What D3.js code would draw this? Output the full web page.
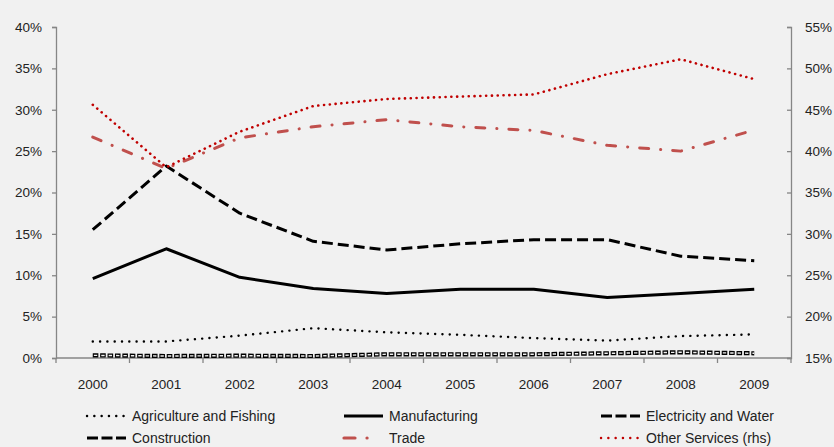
<!DOCTYPE html>
<html>
<head>
<meta charset="utf-8">
<script src="https://cdn.jsdelivr.net/npm/d3@7"></script>
<style>
  html, body { margin: 0; padding: 0; background: #f1f1f1; }
  svg { display: block; font-family: "Liberation Sans", Arial, sans-serif; }
</style>
</head>
<body>
<svg id="chart" width="834" height="447"></svg>
<script>
// Sector shares, 2000-2009 (percent)
const years = ["2000","2001","2002","2003","2004","2005","2006","2007","2008","2009"];
const agriculture   = [2.0, 2.0, 2.7, 3.6, 3.1, 2.8, 2.4, 2.1, 2.65, 2.85];
const manufacturing = [9.6, 13.2, 9.75, 8.4, 7.8, 8.3, 8.3, 7.3, 7.8, 8.3];
const electricity   = [15.5, 23.2, 17.5, 14.1, 13.05, 13.8, 14.3, 14.3, 12.3, 11.75];
const construction  = [0.32, 0.24, 0.28, 0.24, 0.45, 0.45, 0.45, 0.57, 0.69, 0.57];
const trade         = [26.7, 22.9, 26.6, 27.95, 28.8, 27.95, 27.5, 25.7, 25.0, 27.55];
const otherServices = [45.6, 38.05, 42.35, 45.45, 46.3, 46.6, 46.85, 49.3, 51.1, 48.7]; // right-hand scale
const leftTicks  = [0, 5, 10, 15, 20, 25, 30, 35, 40];
const rightTicks = [15, 20, 25, 30, 35, 40, 45, 50, 55];

const svg = d3.select("#chart");
const margin = {left: 56, right: 43, top: 27, bottom: 89};
const W = 834, H = 447;
const x0 = margin.left, x1 = W - margin.right, yTop = margin.top, yBot = H - margin.bottom;

const x = d3.scaleBand().domain(years).range([x0, x1]).padding(0);
const yL = d3.scaleLinear().domain([0, 40]).range([yBot, yTop]);
const yR = d3.scaleLinear().domain([15, 55]).range([yBot, yTop]);
const axisColor = "#868686";
const textColor = "#222";

// Left axis
const gL = svg.append("g").attr("transform", `translate(${x0},0)`)
  .call(d3.axisLeft(yL).tickValues(leftTicks).tickFormat(d => d + "%").tickSize(4).tickPadding(10));
// Right axis (ticks point inward)
const gR = svg.append("g").attr("transform", `translate(${x1},0)`)
  .call(d3.axisRight(yR).tickValues(rightTicks).tickFormat(d => d + "%").tickSize(-4).tickPadding(14));
[gL, gR].forEach(g => {
  g.select(".domain").attr("stroke", axisColor).attr("stroke-width", 1.3);
  g.selectAll(".tick line").attr("stroke", axisColor).attr("stroke-width", 1.3);
  g.selectAll(".tick text").attr("fill", textColor).style("font-size", "13.5px")
    .style("font-family", "'Liberation Sans', Arial, sans-serif");
});
gR.selectAll(".tick text").attr("x", 14);

// Category axis: ticks at band boundaries
const gX = svg.append("g").attr("transform", `translate(0,${yBot})`);
gX.append("line").attr("x1", x0).attr("x2", x1).attr("stroke", axisColor).attr("stroke-width", 1.3);
const bounds = years.map(y => x(y)).concat([x1]);
gX.selectAll("line.tk").data(bounds).join("line").attr("class", "tk")
  .attr("x1", d => d).attr("x2", d => d).attr("y1", 0).attr("y2", 5)
  .attr("stroke", axisColor).attr("stroke-width", 1.3);
gX.selectAll("text").data(years).join("text")
  .attr("x", d => x(d) + x.bandwidth() / 2).attr("y", 31)
  .attr("text-anchor", "middle").attr("fill", textColor).style("font-size", "13.5px")
  .text(d => d);

const cx = d => x(d) + x.bandwidth() / 2;
const lineL = d3.line().x((d, i) => cx(years[i])).y(d => yL(d));
const lineR = d3.line().x((d, i) => cx(years[i])).y(d => yR(d));

const series = [
  {name: "Construction", data: construction, gen: lineL,
   styles: [{stroke: "#000", width: 4.2, dash: "5.6,1.8", cap: "butt"},
            {stroke: "#f1f1f1", width: 1.4, dash: "3.4,4", cap: "butt", offset: -1.1}]},
  {name: "Agriculture and Fishing", data: agriculture, gen: lineL,
   styles: [{stroke: "#000", width: 2.4, dash: "0.1,7.2", cap: "round"}]},
  {name: "Manufacturing", data: manufacturing, gen: lineL,
   styles: [{stroke: "#000", width: 3, dash: null, cap: "butt"}]},
  {name: "Electricity and Water", data: electricity, gen: lineL,
   styles: [{stroke: "#000", width: 3, dash: "11,5", cap: "butt"}]},
  {name: "Trade", data: trade, gen: lineL,
   styles: [{stroke: "#c0504d", width: 3, dash: "9,12,0.1,12", cap: "round"}]},
  {name: "Other Services (rhs)", data: otherServices, gen: lineR,
   styles: [{stroke: "#c00000", width: 2.6, dash: "0.1,5.7", cap: "round"}]}
];

const plot = svg.append("g");
series.forEach(s => {
  s.styles.forEach(st => {
    plot.append("path").datum(s.data)
      .attr("d", s.gen)
      .attr("fill", "none")
      .attr("stroke", st.stroke)
      .attr("stroke-width", st.width)
      .attr("stroke-linecap", st.cap)
      .attr("stroke-linejoin", "round")
      .attr("stroke-dasharray", st.dash)
      .attr("stroke-dashoffset", st.offset || 0);
  });
});

// Legend
const legendItems = [
  {name: "Agriculture and Fishing", stroke: "#000", width: 2.4, dash: "0.1,7.2", cap: "round", col: 0, row: 0},
  {name: "Manufacturing", stroke: "#000", width: 3.2, dash: null, cap: "butt", col: 1, row: 0},
  {name: "Electricity and Water", stroke: "#000", width: 3.2, dash: "11,3.5", cap: "butt", col: 2, row: 0},
  {name: "Construction", stroke: "#000", width: 3.2, dash: "11,3.5", cap: "butt", col: 0, row: 1},
  {name: "Trade", stroke: "#c0504d", width: 3.2, dash: "11,12,0.1,60", cap: "round", col: 1, row: 1},
  {name: "Other Services (rhs)", stroke: "#c00000", width: 2.4, dash: "0.1,7.2", cap: "round", col: 2, row: 1}
];
const colX = [86, 343, 600];
const rowY = [416, 438];
const lg = svg.append("g");
legendItems.forEach(it => {
  const gx = colX[it.col], gy = rowY[it.row];
  lg.append("line").attr("x1", gx + 1).attr("x2", gx + 40).attr("y1", gy).attr("y2", gy)
    .attr("stroke", it.stroke).attr("stroke-width", it.width)
    .attr("stroke-linecap", it.cap).attr("stroke-dasharray", it.dash);
  lg.append("text").attr("x", gx + 46).attr("y", gy + 4.8)
    .attr("fill", textColor).style("font-size", "14px").text(it.name);
});
</script>
</body>
</html>
